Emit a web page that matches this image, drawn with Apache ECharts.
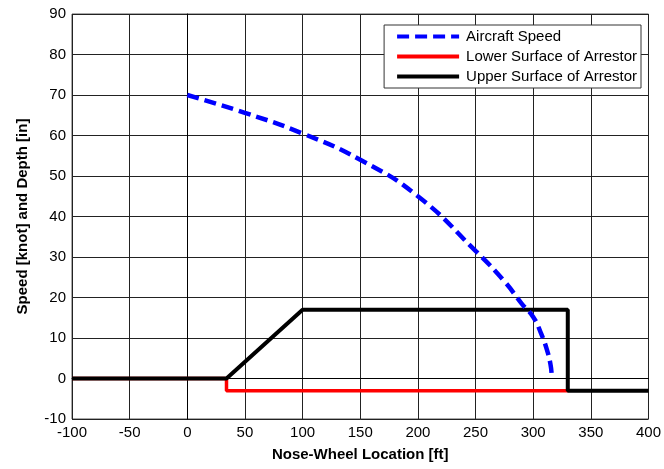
<!DOCTYPE html>
<html>
<head>
<meta charset="utf-8">
<script src="https://cdn.jsdelivr.net/npm/echarts@6/dist/echarts.min.js"></script>
<style>
  html, body { margin: 0; padding: 0; background: #fff; }
  #chart { width: 664px; height: 469px; }
</style>
</head>
<body>
<div id="chart"></div>
<script>
// aircraft speed along the arrestor (knot)
var speedX = [0, 50, 100, 150, 200, 250, 275, 290, 300, 307, 312, 315, 316]
var speedY = [70, 65.6, 60.5, 54, 45, 31.5, 24, 18.5, 15.2, 11, 7, 3.5, 1]
// arrestor surfaces (in)
var lowerX = [-100, 34, 34, 330]
var lowerY = [0, 0, -3, -3]
var upperX = [-100, 34, 100, 330, 330, 400]
var upperY = [0, 0, 17, 17, -3, -3]
var names = ['Aircraft Speed', 'Lower Surface of Arrestor', 'Upper Surface of Arrestor']

function pairs(xs, ys) {
  return xs.map(function(x, i) { return [x, ys[i]] })
}

var chart = echarts.init(document.getElementById('chart'))
var font = 'Liberation Sans, Arial, sans-serif'
chart.setOption({
  animation: false,
  grid: { left: 72, right: 12, top: 14, bottom: 50, show: true, borderColor: '#555', borderWidth: 1 },
  legend: {
    data: names,
    orient: 'vertical',
    right: 23,
    top: 25,
    itemWidth: 62,
    itemHeight: 14,
    itemGap: 5,
    padding: [4, 4, 4, 11],
    backgroundColor: '#fff',
    borderColor: '#333',
    borderWidth: 1,
    borderRadius: 0,
    itemStyle: { opacity: 0 },
    lineStyle: { width: 4 },
    textStyle: { fontFamily: font, fontSize: 15, color: '#000', padding: [0, 0, 0, 2] }
  },
  xAxis: {
    type: 'value',
    min: -100,
    max: 400,
    interval: 50,
    name: 'Nose-Wheel Location [ft]',
    nameLocation: 'middle',
    nameGap: 28,
    nameTextStyle: { fontFamily: font, fontSize: 15, fontWeight: 'bold', color: '#000' },
    axisLine: { lineStyle: { color: '#000', width: 1 } },
    axisTick: { show: false },
    axisLabel: { fontFamily: font, fontSize: 15, color: '#000', margin: 6 },
    splitLine: { lineStyle: { color: '#222', width: 1 } }
  },
  yAxis: {
    type: 'value',
    min: -10,
    max: 90,
    interval: 10,
    name: 'Speed [knot] and Depth [in]',
    nameLocation: 'middle',
    nameGap: 42,
    nameTextStyle: { fontFamily: font, fontSize: 15, fontWeight: 'bold', color: '#000' },
    axisLine: { lineStyle: { color: '#000', width: 1 } },
    axisTick: { show: false },
    axisLabel: { fontFamily: font, fontSize: 15, color: '#000', margin: 6 },
    splitLine: { lineStyle: { color: '#222', width: 1 } }
  },
  series: [
    {
      name: names[0],
      type: 'line',
      z: 5,
      symbol: 'none',
      smooth: 0.5,
      data: pairs(speedX, speedY),
      itemStyle: { color: '#0000ff' },
      lineStyle: { color: '#0000ff', width: 4.5, type: [12, 6] }
    },
    {
      name: names[1],
      type: 'line',
      z: 3,
      symbol: 'none',
      data: pairs(lowerX, lowerY),
      itemStyle: { color: '#ff0000' },
      lineStyle: { color: '#ff0000', width: 3.5 }
    },
    {
      name: names[2],
      type: 'line',
      z: 4,
      symbol: 'none',
      data: pairs(upperX, upperY),
      itemStyle: { color: '#000' },
      lineStyle: { color: '#000', width: 4 }
    }
  ]
})
</script>
</body>
</html>
